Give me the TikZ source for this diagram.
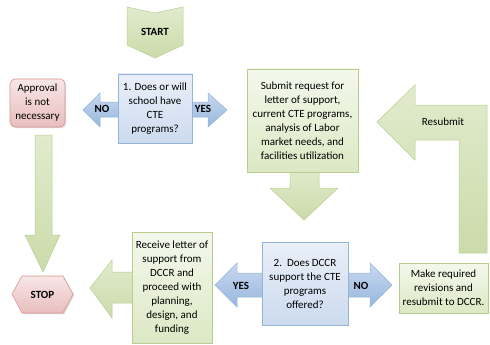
\documentclass[tikz,border=0pt]{standalone}
\usepackage{fontspec}
\setmainfont{Carlito}
\usetikzlibrary{shadows}
\definecolor{grnEdge}{HTML}{B9CD8E}
\definecolor{grnTop}{HTML}{F4F8EC}
\definecolor{grnBot}{HTML}{DCE8C4}
\definecolor{grnArrT}{HTML}{E1EBCD}
\definecolor{grnArrB}{HTML}{CBDBA9}
\definecolor{bluEdge}{HTML}{95B3D7}
\definecolor{bluTop}{HTML}{E9EFF8}
\definecolor{bluBot}{HTML}{CCDBEF}
\definecolor{bluArrT}{HTML}{C8D8EE}
\definecolor{bluArrB}{HTML}{97B7DE}
\definecolor{redEdge}{HTML}{D99694}
\definecolor{redTop}{HTML}{F8E6E6}
\definecolor{redBot}{HTML}{E8BEBD}
\tikzset{
  txt/.style={font=\fontsize{11}{14}\selectfont, align=center, inner sep=0pt},
  lbl/.style={font=\fontsize{11}{13}\selectfont\bfseries, inner sep=0pt},
  shad/.style={drop shadow={shadow xshift=1.2pt, shadow yshift=-1.2pt, opacity=0.25, fill=black!60}},
  greenbox/.style={txt, draw=grnEdge, line width=0.6pt, top color=grnTop, bottom color=grnBot, shad},
  bluebox/.style={txt, draw=bluEdge, line width=0.6pt, top color=bluTop, bottom color=bluBot, shad},
  redbox/.style={txt, draw=redEdge, line width=0.6pt, top color=redTop, bottom color=redBot, shad},
  greenarrow/.style={draw=grnEdge, line width=0.5pt, top color=grnArrT, bottom color=grnArrB},
  bluearrow/.style={draw=bluEdge, line width=0.5pt, top color=bluArrT, bottom color=bluArrB},
}
\begin{document}
\begin{tikzpicture}[x=1pt,y=-1pt]
\useasboundingbox (0,0) rectangle (490,345);
% START chevron
\draw[greenarrow] (127,7) -- (155,13) -- (183,7) -- (183,45) -- (155,58) -- (127,45) -- cycle;
\node[lbl] (start) at (155,32) {START};
% double arrow 1
\draw[bluearrow] (83,110) -- (100,93) -- (100,102) -- (208,102) -- (208,93) -- (227,110)
  -- (208,127) -- (208,117) -- (100,117) -- (100,127) -- cycle;
% double arrow 2
\draw[bluearrow] (215,285) -- (237,263) -- (237,273) -- (370,273) -- (370,263) -- (392,285)
  -- (370,307) -- (370,297) -- (237,297) -- (237,307) -- cycle;
% approval -> stop arrow
\draw[greenarrow] (35,135) -- (52,135) -- (52,235) -- (60,235) -- (43,272) -- (25,235) -- (35,235) -- cycle;
% submit -> box2 arrow
\draw[greenarrow] (290,168) -- (319,168) -- (319,188) -- (338,188) -- (304,220) -- (270,188) -- (290,188) -- cycle;
% receive -> stop arrow
\draw[greenarrow] (90,288) -- (112,260) -- (112,272) -- (136,272) -- (136,303) -- (112,303) -- (112,318) -- cycle;
% resubmit bent arrow
\draw[greenarrow] (377,122) -- (415,85) -- (415,105) -- (487,105) -- (487,253) -- (459,253)
  -- (459,140) -- (415,140) -- (415,160) -- cycle;
\node[txt] (resub) at (443,122) {Resubmit};
% STOP hexagon
\draw[draw=redEdge, line width=0.6pt, top color=redTop, bottom color=redBot, shad]
  (12,294) -- (22,276) -- (63,276) -- (73,294) -- (63,313) -- (22,313) -- cycle;
\node[lbl] (stop) at (42.5,294.5) {STOP};
% boxes
\node[bluebox, minimum width=74pt, minimum height=69pt] (q1) at (155,108.5)
  {1. Does or will\\school have\\CTE\\programs?};
\node[redbox, rounded corners=5pt, minimum width=55pt, minimum height=48pt] (appr) at (37.5,103)
  {Approval\\is not\\necessary};
\node[greenbox, minimum width=111pt, minimum height=103pt] (sub) at (302.5,120.5)
  {Submit request for\\letter of support,\\current CTE programs,\\analysis of Labor\\market needs, and\\facilities utilization};
\node[bluebox, minimum width=86pt, minimum height=83pt] (q2) at (305,283.5)
  {2.\ \ Does DCCR\\support the CTE\\programs\\offered?};
\node[greenbox, minimum width=89pt, minimum height=50pt] (make) at (443.5,288)
  {Make required\\revisions and\\resubmit to DCCR.};
\node[greenbox, minimum width=80pt, minimum height=111pt] (recv) at (172,287.5)
  {Receive letter of\\support from\\DCCR and\\proceed with\\planning,\\design, and\\funding};
% arrow labels
\node[lbl] (no1) at (102,109) {NO};
\node[lbl] (yes1) at (203,109) {YES};
\node[lbl] (yes2) at (241,286) {YES};
\node[lbl] (no2) at (361,286) {NO};
\end{tikzpicture}
\end{document}
